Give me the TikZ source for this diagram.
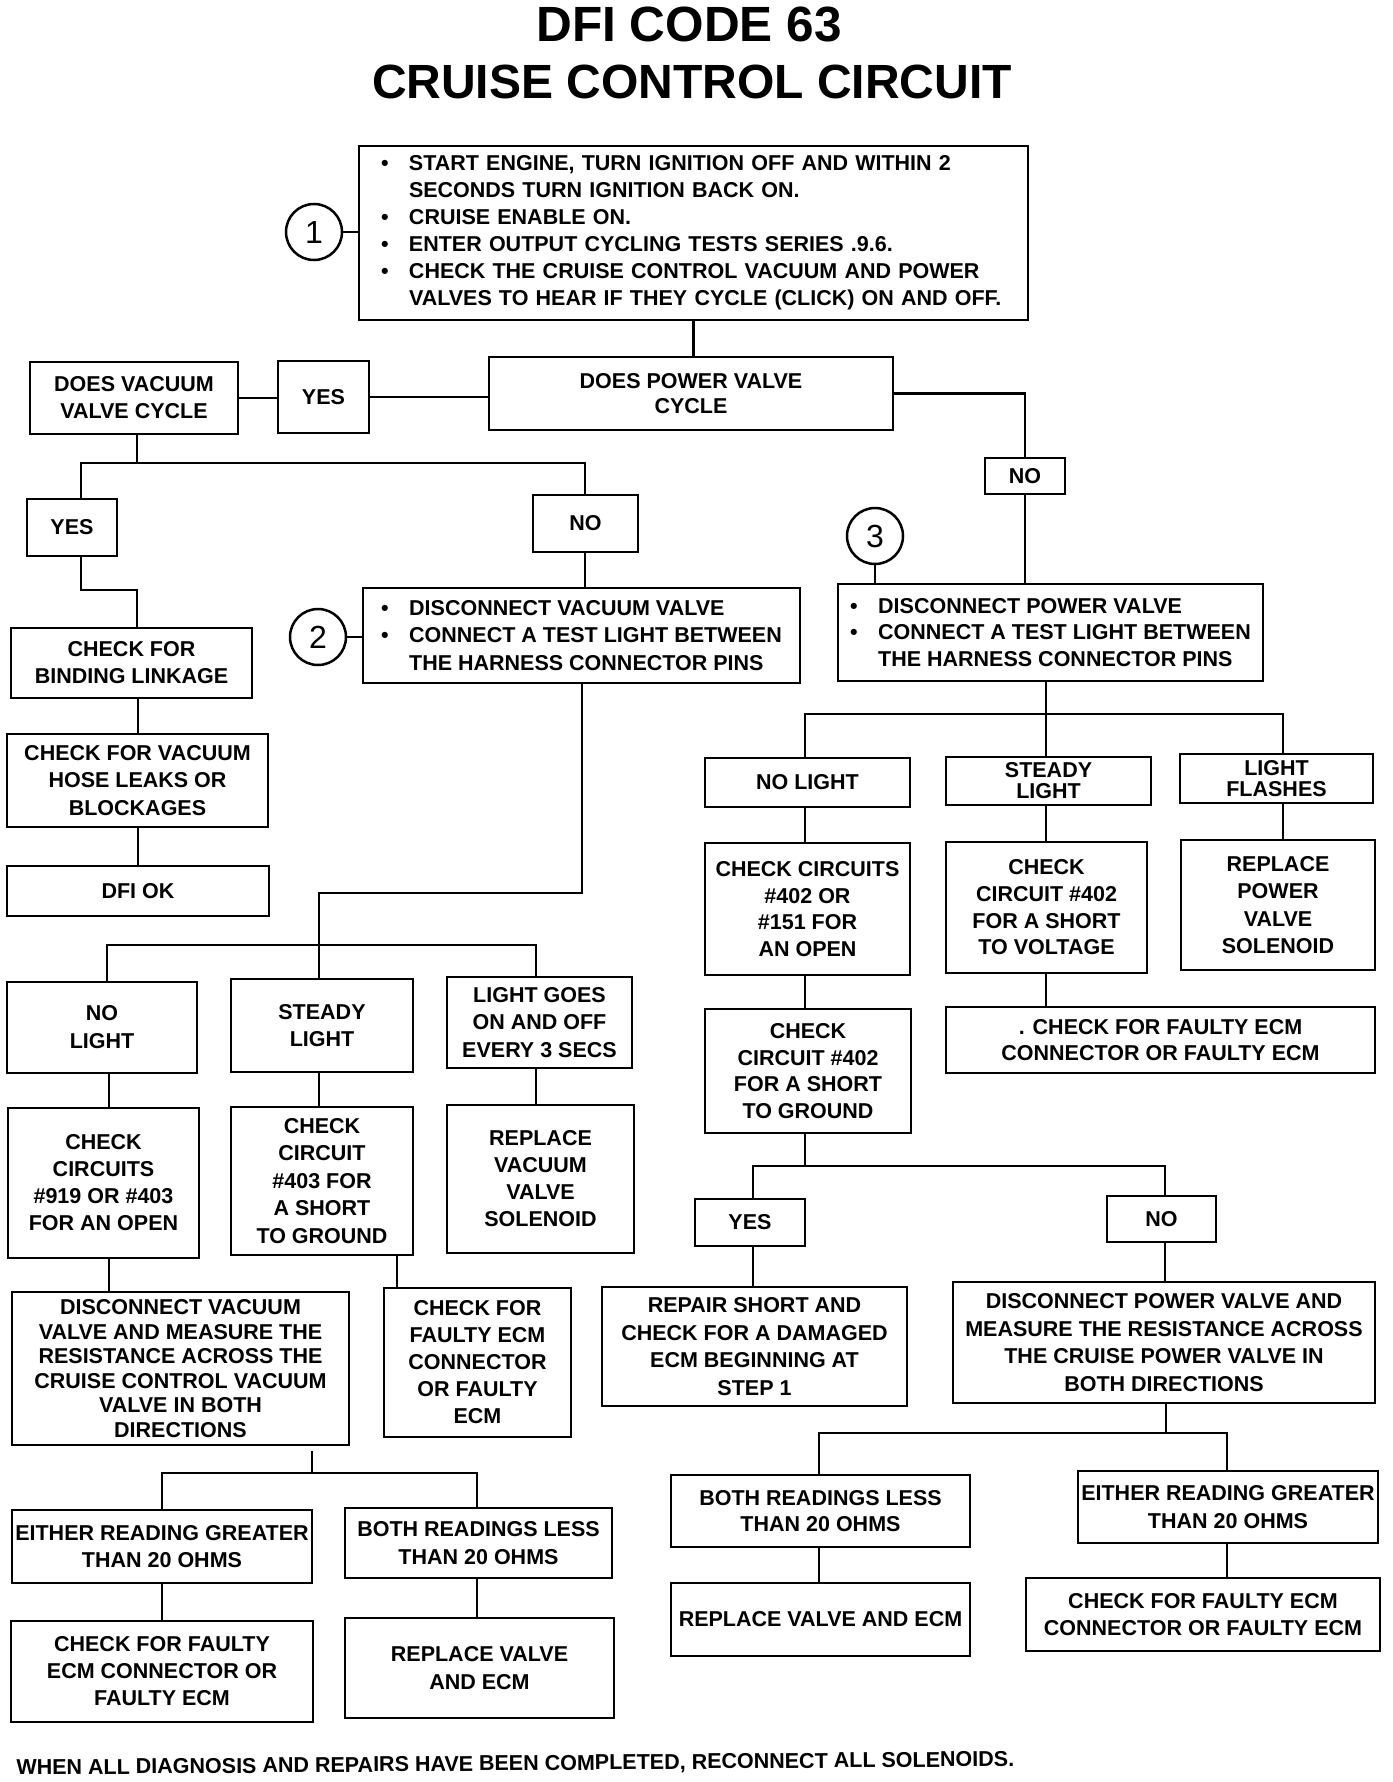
\documentclass[tikz,border=0pt]{standalone}
\usepackage{fontspec}
\setmainfont{Liberation Sans}
\tikzset{
  box/.style={draw, line width=2.8pt, inner sep=0pt, align=center, font=\bfseries\fontsize{21.5}{27}\selectfont},
  bs/.style={font=\bfseries\fontsize{21.5}{#1}\selectfont},
  conn/.style={line width=2.8pt},
  num/.style={circle, draw, line width=2.5pt, minimum size=56pt, inner sep=0pt, font=\fontsize{32}{32}\selectfont},
  ttl/.style={anchor=base, font=\bfseries\fontsize{#1}{57}\selectfont}
}
\newcommand\bx[7][]{\node[box,#1, minimum width={(#5-#3)*1pt}, minimum height={(#6-#4)*1pt}] (#2) at ({(#3+#5)/2},{(#4+#6)/2}) {#7};}
\newcommand\bul{\makebox[28pt][l]{•}}
\newcommand\ind{\hspace*{28pt}}
\begin{document}
\begin{tikzpicture}[x=1pt,y=-1pt]
\useasboundingbox (0,0) rectangle (1392,1782);
\fill[white] (0,0) rectangle (1392,1782);
% titles
\node[ttl=49.5] (t1) at (689,42) {DFI CODE 63};
\node[ttl=48] (t2) at (692,99) {CRUISE CONTROL CIRCUIT};
% top
\bx[align=left, text width=625pt, inner xsep=22pt]{step1}{359}{146}{1028}{320}{\bul START ENGINE, TURN IGNITION OFF AND WITHIN 2\\\ind SECONDS TURN IGNITION BACK ON.\\\bul CRUISE ENABLE ON.\\\bul ENTER OUTPUT CYCLING TESTS SERIES .9.6.\\\bul CHECK THE CRUISE CONTROL VACUUM AND POWER\\\ind VALVES TO HEAR IF THEY CYCLE (CLICK) ON AND OFF.}
\node[num] (c1) at (314,232) {1};
\bx[bs=25]{pvc}{489}{357}{893}{430}{DOES POWER VALVE\\CYCLE}
\bx{vvc}{30}{362}{238}{434}{DOES VACUUM\\VALVE CYCLE}
\bx{yes1}{278}{361}{369}{433}{YES}
\bx{no1}{985}{458}{1065}{494}{NO}
\bx[align=left,bs=26.5]{step3}{838}{584}{1263}{681}{\bul DISCONNECT POWER VALVE\\\bul CONNECT A TEST LIGHT BETWEEN\\\ind THE HARNESS CONNECTOR PINS}
\node[num] (c3) at (875,536) {3};
\bx{no2}{533}{495}{638}{552}{NO}
\bx{yes2}{27}{499}{117}{556}{YES}
\bx[align=left,bs=27.5]{step2}{363}{588}{800}{683}{\bul DISCONNECT VACUUM VALVE\\\bul CONNECT A TEST LIGHT BETWEEN\\\ind THE HARNESS CONNECTOR PINS}
\node[num] (c2) at (318,637) {2};
% left column
\bx{bind}{11}{628}{252}{698}{CHECK FOR\\BINDING LINKAGE}
\bx[bs=27.5]{hose}{7}{734}{268}{827}{CHECK FOR VACUUM\\HOSE LEAKS OR\\BLOCKAGES}
\bx{dfiok}{7}{866}{269}{916}{DFI OK}
\bx[bs=28]{nl1}{7}{982}{197}{1073}{NO\\LIGHT}
\bx{sl1}{231}{979}{413}{1072}{STEADY\\LIGHT}
\bx[bs=27.5]{lg}{447}{977}{632}{1068}{LIGHT GOES\\ON AND OFF\\EVERY 3 SECS}
\bx{cc919}{8}{1108}{199}{1258}{CHECK\\CIRCUITS\\\#919 OR \#403\\FOR AN OPEN}
\bx[bs=27.5]{cc403}{231}{1107}{413}{1255}{CHECK\\CIRCUIT\\\#403 FOR\\A SHORT\\TO GROUND}
\bx{rvvs}{447}{1105}{634}{1253}{REPLACE\\VACUUM\\VALVE\\SOLENOID}
\bx[bs=24.6]{dvm}{12}{1292}{349}{1445}{DISCONNECT VACUUM\\VALVE AND MEASURE THE\\RESISTANCE ACROSS THE\\CRUISE CONTROL VACUUM\\VALVE IN BOTH\\DIRECTIONS}
\bx{ecm1}{384}{1288}{571}{1437}{CHECK FOR\\FAULTY ECM\\CONNECTOR\\OR FAULTY\\ECM}
\bx{erg1}{12}{1510}{312}{1583}{EITHER READING GREATER\\THAN 20 OHMS}
\bx[bs=28]{brl1}{345}{1508}{612}{1578}{BOTH READINGS LESS\\THAN 20 OHMS}
\bx{cfe1}{11}{1621}{313}{1722}{CHECK FOR FAULTY\\ECM CONNECTOR OR\\FAULTY ECM}
\bx[bs=28]{rve1}{345}{1618}{614}{1718}{REPLACE VALVE\\AND ECM}
% right column
\bx{nl2}{705}{758}{910}{807}{NO LIGHT}
\bx[bs=21]{sl2}{946}{757}{1151}{805}{STEADY\\LIGHT}
\bx[bs=21]{lf}{1180}{754}{1373}{803}{LIGHT\\FLASHES}
\bx[bs=26.7]{cc402}{705}{843}{910}{975}{CHECK CIRCUITS\\\#402 OR\\\#151 FOR\\AN OPEN}
\bx[bs=26.7]{cc402v}{946}{842}{1147}{973}{CHECK\\CIRCUIT \#402\\FOR A SHORT\\TO VOLTAGE}
\bx[bs=27.3]{rpvs}{1181}{840}{1375}{970}{REPLACE\\POWER\\VALVE\\SOLENOID}
\bx[bs=26.7]{cc402g}{705}{1009}{911}{1133}{CHECK\\CIRCUIT \#402\\FOR A SHORT\\TO GROUND}
\bx[bs=26]{ecm2}{946}{1007}{1375}{1073}{. CHECK FOR FAULTY ECM\\CONNECTOR OR FAULTY ECM}
\bx{yes3}{695}{1199}{805}{1246}{YES}
\bx{no3}{1107}{1196}{1216}{1242}{NO}
\bx[bs=27.7]{repair}{602}{1287}{907}{1406}{REPAIR SHORT AND\\CHECK FOR A DAMAGED\\ECM BEGINNING AT\\STEP 1}
\bx[bs=27.7]{dpv}{953}{1282}{1375}{1403}{DISCONNECT POWER VALVE AND\\MEASURE THE RESISTANCE ACROSS\\THE CRUISE POWER VALVE IN\\BOTH DIRECTIONS}
\bx[bs=26]{brl2}{671}{1475}{970}{1547}{BOTH READINGS LESS\\THAN 20 OHMS}
\bx[bs=28.5]{erg2}{1078}{1471}{1378}{1543}{EITHER READING GREATER\\THAN 20 OHMS}
\bx{rve2}{671}{1583}{970}{1656}{REPLACE VALVE AND ECM}
\bx{cfe2}{1026}{1578}{1380}{1651}{CHECK FOR FAULTY ECM\\CONNECTOR OR FAULTY ECM}
% footer
\node[anchor=base west, rotate=0.5, font=\bfseries\fontsize{21.5}{26}\selectfont] (foot) at (13,1775) {WHEN ALL DIAGNOSIS AND REPAIRS HAVE BEEN COMPLETED, RECONNECT ALL SOLENOIDS.};
% connectors - top
\draw[conn] (step1.south) -- (step1.south |- pvc.north);
\draw[conn] (c1.east) -- (c1.east -| step1.west);
\draw[conn] (vvc.east) -- (vvc.east -| yes1.west);
\draw[conn] (yes1.east) -- (yes1.east -| pvc.west);
\draw[conn] (pvc.east) -| (no1.north);
\draw[conn] (no1.south) -- (no1.south |- step3.north);
\draw[conn] (c3.south) -- (c3.south |- step3.north);
\coordinate (ja) at (137,463); \coordinate (jl) at (81,463); \coordinate (jr) at (585,463);
\draw[conn] (vvc.south -| ja) -- (ja);
\draw[conn] (yes2.north -| jl) -- (jl) -- (jr) -- (no2.north -| jr);
\draw[conn] (no2.south -| jr) -- (step2.north -| jr);
\draw[conn] (c2.east) -- (c2.east -| step2.west);
% left column
\coordinate (ka) at (81,590); \coordinate (kb) at (137,590);
\draw[conn] (yes2.south -| ka) -- (ka) -- (kb) -- (bind.north -| kb);
\coordinate (x138) at (138,0);
\draw[conn] (bind.south -| x138) -- (hose.north -| x138);
\draw[conn] (hose.south -| x138) -- (dfiok.north -| x138);
\coordinate (ma) at (582,893); \coordinate (mb) at (319,893);
\draw[conn] (step2.south -| ma) -- (ma) -- (mb) -- (sl1.north -| mb);
\coordinate (na) at (107,945); \coordinate (nb) at (536,945);
\draw[conn] (nl1.north -| na) -- (na) -- (nb) -- (lg.north -| nb);
\coordinate (x109) at (109,0);
\draw[conn] (nl1.south -| x109) -- (cc919.north -| x109);
\draw[conn] (cc919.south -| x109) -- (dvm.north -| x109);
\draw[conn] (sl1.south -| mb) -- (cc403.north -| mb);
\draw[conn] (lg.south -| nb) -- (rvvs.north -| nb);
\coordinate (x397) at (397,0);
\draw[conn] (cc403.south -| x397) -- (ecm1.north -| x397);
\coordinate (da) at (312,1473); \coordinate (dl) at (162,1473); \coordinate (dr) at (477,1473);
\draw[conn, shorten <=5pt] (dvm.south -| da) -- (da);
\draw[conn] (erg1.north -| dl) -- (dl) -- (dr) -- (brl1.north -| dr);
\draw[conn] (erg1.south -| dl) -- (cfe1.north -| dl);
\draw[conn] (brl1.south -| dr) -- (rve1.north -| dr);
% right column
\coordinate (ra) at (1046,714); \coordinate (rl) at (805,714); \coordinate (rr) at (1283,714);
\draw[conn] (step3.south -| ra) -- (sl2.north -| ra);
\draw[conn] (nl2.north -| rl) -- (rl) -- (rr) -- (lf.north -| rr);
\draw[conn] (nl2.south -| rl) -- (cc402.north -| rl);
\draw[conn] (cc402.south -| rl) -- (cc402g.north -| rl);
\draw[conn] (sl2.south -| ra) -- (cc402v.north -| ra);
\draw[conn] (cc402v.south -| ra) -- (ecm2.north -| ra);
\draw[conn] (lf.south -| rr) -- (rpvs.north -| rr);
\coordinate (ga) at (805,1166); \coordinate (gl) at (753,1166); \coordinate (gr) at (1165,1166);
\draw[conn] (cc402g.south -| ga) -- (ga);
\draw[conn] (yes3.north -| gl) -- (gl) -- (gr) -- (no3.north -| gr);
\draw[conn] (yes3.south -| gl) -- (repair.north -| gl);
\draw[conn] (no3.south -| gr) -- (dpv.north -| gr);
\coordinate (pa) at (1166,1433); \coordinate (pl) at (819,1433); \coordinate (pr) at (1227,1433);
\draw[conn] (dpv.south -| pa) -- (pa);
\draw[conn] (brl2.north -| pl) -- (pl) -- (pr) -- (erg2.north -| pr);
\draw[conn] (brl2.south -| pl) -- (rve2.north -| pl);
\draw[conn] (erg2.south -| pr) -- (cfe2.north -| pr);
\end{tikzpicture}
\end{document}
